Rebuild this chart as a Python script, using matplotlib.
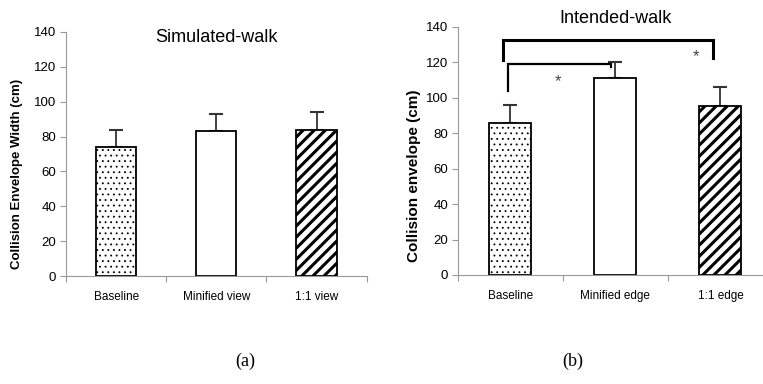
import matplotlib
matplotlib.use("Agg")
import matplotlib.pyplot as plt
import numpy as np

# data
sim_labels = ["Baseline", "Minified view", "1:1 view"]
sim_means = [74, 83, 84]
sim_err = [10, 10, 10]

int_labels = ["Baseline", "Minified edge", "1:1 edge"]
int_means = [86, 111, 95.5]
int_err = [10, 9, 10.5]

hatches = ["...", "", "///"]
hatch_lw = [0.6, 1.0, 2.2]
yticks = [0, 20, 40, 60, 80, 100, 120, 140]

plt.rcParams["font.family"] = ["Liberation Sans", "DejaVu Sans"]
plt.rcParams["hatch.color"] = "black"

fig = plt.figure(figsize=(7.63, 3.84), dpi=100)


def draw_panel(ax, labels, means, err, ylabel, ylabel_size, ylabel_xy):
    x = np.arange(len(labels))
    # error bars only upward
    ax.errorbar(x, means, yerr=[np.zeros(len(err)), err], fmt="none",
                ecolor="#333333", elinewidth=1.3, capsize=5, capthick=1.5, zorder=1)
    for i in range(len(labels)):
        with plt.rc_context({"hatch.linewidth": hatch_lw[i]}):
            b = ax.bar(x[i], means[i], width=0.4, color="white", edgecolor="black",
                       linewidth=1.3, hatch=hatches[i], zorder=2)[0]
        if hasattr(b, "set_hatch_linewidth"):
            b.set_hatch_linewidth(hatch_lw[i])
    ax.set_xlim(-0.5, 2.5)
    ax.set_ylim(0, 140)
    ax.set_yticks(yticks)
    ax.set_xticks([-0.5, 0.5, 1.5, 2.5])
    ax.set_xticklabels([])
    ax.set_xticks(x, minor=True)
    ax.set_xticklabels(labels, minor=True)
    ax.tick_params(axis="x", which="minor", length=0, pad=11, labelsize=8.5)
    ax.tick_params(axis="x", which="major", length=4, color="#999999")
    ax.tick_params(axis="y", length=4, color="#999999", labelsize=9.5, pad=3)
    for s in ["top", "right"]:
        ax.spines[s].set_visible(False)
    for s in ["left", "bottom"]:
        ax.spines[s].set_color("#999999")
    ax.set_ylabel(ylabel, fontweight="bold", fontsize=ylabel_size)
    ax.yaxis.set_label_coords(*ylabel_xy)


ax1 = fig.add_axes([0.0865, 0.281, 0.394, 0.636])
draw_panel(ax1, sim_labels, sim_means, sim_err, "Collision Envelope Width (cm)",
           9.5, (-0.143, 0.42))
ax1.text(1, 136.5, "Simulated-walk", ha="center", va="center", fontsize=13)

ax2 = fig.add_axes([0.600, 0.284, 0.413, 0.646])
draw_panel(ax2, int_labels, int_means, int_err, "Collision envelope (cm)",
           11, (-0.117, 0.40))
ax2.text(1, 144.5, "Intended-walk", ha="center", va="center", fontsize=13,
         clip_on=False)

# significance brackets
ax2.plot([-0.07, -0.07, 1.93, 1.93], [121.5, 132.7, 132.7, 122.5],
         color="black", lw=2.2, clip_on=False, solid_joinstyle="miter")
ax2.plot([-0.02, -0.02, 0.96, 0.96], [104, 119, 119, 117.5],
         color="black", lw=1.6, clip_on=False, solid_joinstyle="miter")
ax2.text(0.45, 109, "*", ha="center", va="center", fontsize=12, color="#444444")
ax2.text(1.77, 123, "*", ha="center", va="center", fontsize=12, color="#444444")

fig.text(245 / 763, 1 - 361 / 384, "(a)", ha="center", va="center",
         fontsize=13, family="Liberation Serif")
fig.text(573 / 763, 1 - 361 / 384, "(b)", ha="center", va="center",
         fontsize=13, family="Liberation Serif")

fig.savefig("out.png", dpi=100)
